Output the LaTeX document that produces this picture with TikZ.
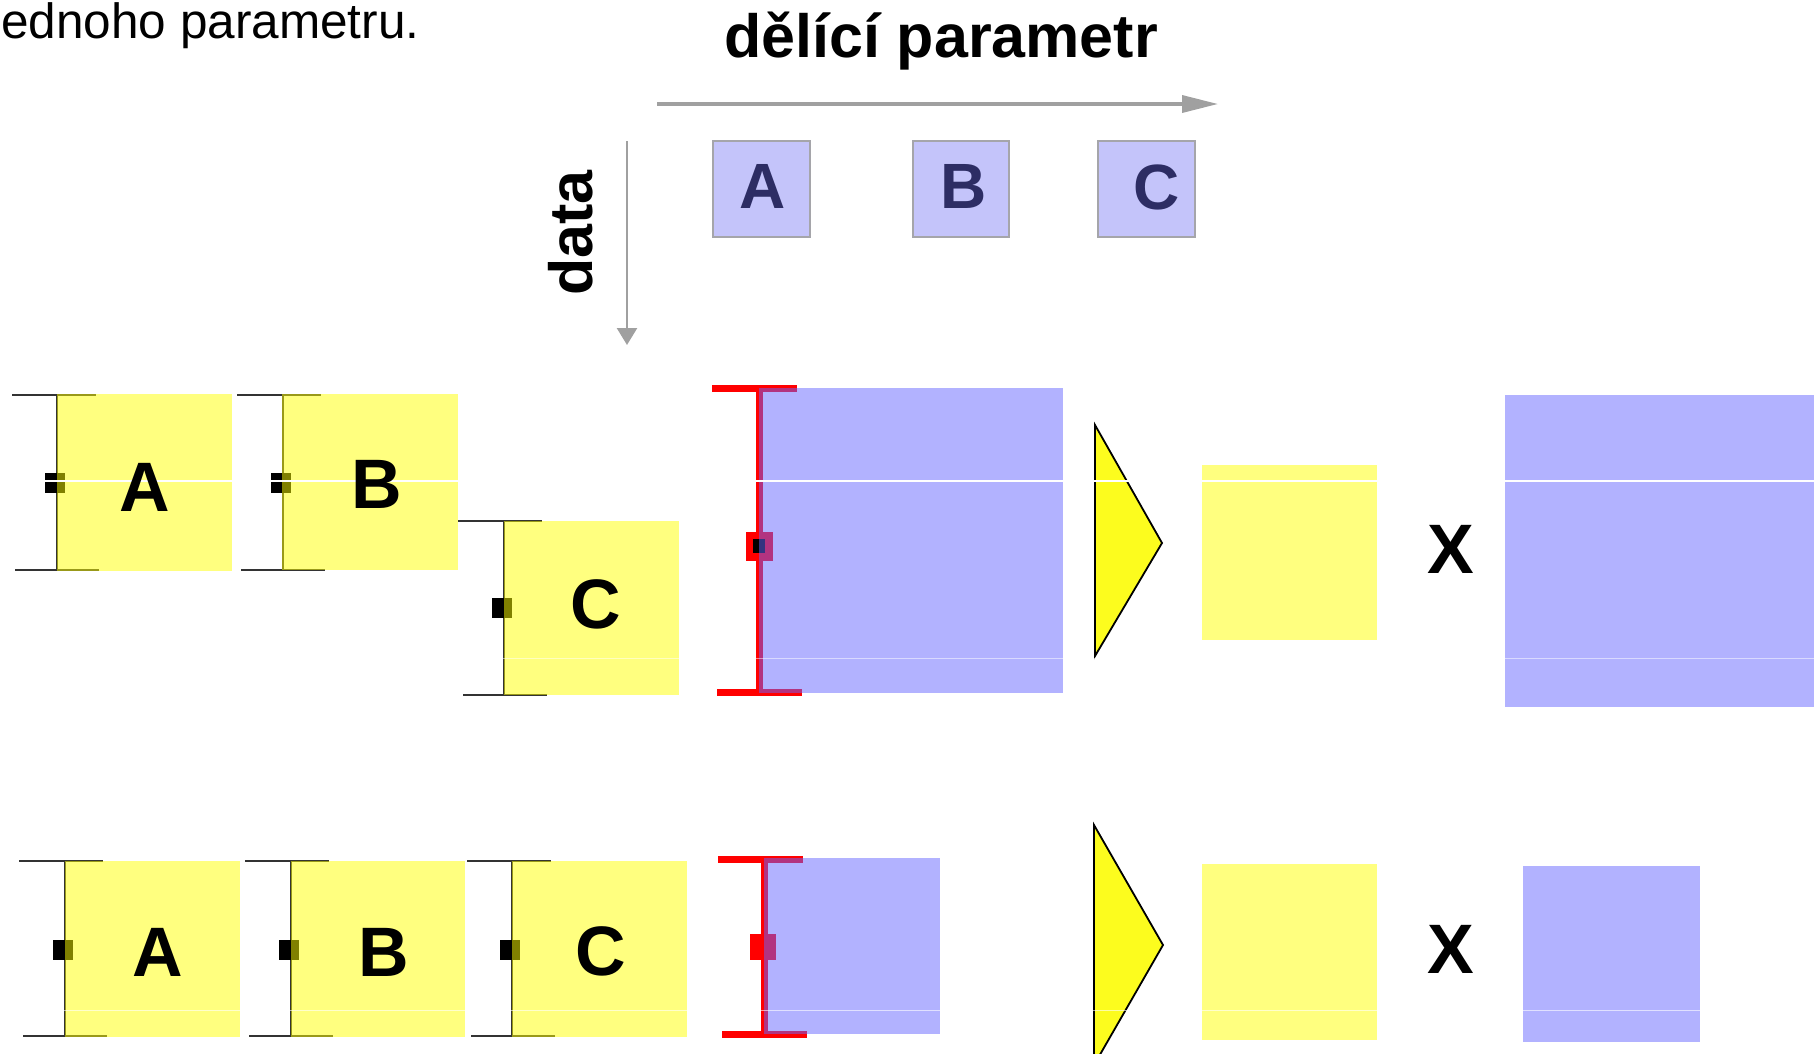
\documentclass[tikz,border=0pt]{standalone}
\usepackage{fontspec}
\setmainfont{Liberation Sans}
\usetikzlibrary{arrows.meta}
\definecolor{ylw}{RGB}{255,255,0}
\definecolor{blu}{RGB}{102,102,255}
\definecolor{lav}{RGB}{196,196,250}
\definecolor{lavedge}{RGB}{165,165,170}
\definecolor{navy}{RGB}{45,45,100}
\definecolor{axisgray}{RGB}{160,160,160}
\definecolor{triyel}{RGB}{252,252,30}
\newcommand{\rnode}[6]{\node[#1, inner sep=0pt, outer sep=0pt, anchor=north west, minimum width={(#5-#3)*1pt}, minimum height={(#6-#4)*1pt}] (#2) at (#3,#4) {};}
\newcommand{\brk}[5]{%
  \draw[brkline] (#4,#2) -- ++(84,0);
  \draw[brkline] (#1,#2) -- (#1,#3);
  \draw[brkline] (#5,#3) -- ++(84,0);}
\begin{document}
\begin{tikzpicture}[x=1pt,y=-1pt,
  ybox/.style={rectangle, fill=ylw, fill opacity=0.5},
  bbox/.style={rectangle, fill=blu, fill opacity=0.5},
  pbox/.style={rectangle, fill=lav, draw=lavedge, line width=1.5pt},
  brkline/.style={draw=black!80, line width=2.2pt},
  knob/.style={rectangle, fill=black, minimum size=20pt, inner sep=0pt},
  blk/.style={rectangle, fill=black},
  rbar/.style={draw=red, line width=7pt},
  rknob/.style={rectangle, fill=red},
  wedge/.style={fill=triyel, draw=black, line width=1.8pt, line join=miter},
  seam/.style={draw=white, line width=1.3pt},
  axis/.style={draw=axisgray},
  big/.style={font=\bfseries\fontsize{70}{70}\selectfont, inner sep=0pt},
  toplbl/.style={font=\bfseries\fontsize{64}{64}\selectfont, text=navy, inner sep=0pt},
  head/.style={font=\bfseries\fontsize{61}{61}\selectfont, inner sep=0pt},
]
\useasboundingbox (0,0) rectangle (1814,1053);

% top text
\node[font=\fontsize{49.5}{49.5}\selectfont, anchor=base west, inner sep=0pt] (intro) at (1,38) {ednoho parametru.};

% headings and axes
\node[head, anchor=base] (title) at (941,57) {dělící parametr};
\node[head, anchor=base, rotate=90] (data) at (592,233) {data};
\coordinate (hs) at (657,104); \coordinate (he) at (1218,104);
\draw[axis, line width=3.5pt, -{Triangle[length=36pt,width=17pt]}] (hs) -- (he);
\coordinate (vs) at (627,141); \coordinate (ve) at (627,345);
\draw[axis, line width=2.5pt, -{Triangle[length=17pt,width=20pt]}] (vs) -- (ve);

% top parameter boxes
\rnode{pbox}{pa}{713}{141}{810}{237}
\rnode{pbox}{pb}{913}{141}{1009}{237}
\rnode{pbox}{pc}{1098}{141}{1195}{237}
\node[toplbl] (pal) at (763,186) {A};
\node[toplbl] (pbl) at (964,186) {B};
\node[toplbl] (pcl) at (1157,187) {C};

% ---- row 1 ----
\brk{57}{395}{570}{12}{15}
\brk{283}{395}{570}{237}{241}
\brk{504}{521}{695}{458}{463}
\node[knob] (ka1) at (55,483) {};
\node[knob] (kb1) at (281,483) {};
\node[knob] (kc1) at (502,608) {};
\rnode{ybox}{ya1}{57}{394}{232}{571}
\rnode{ybox}{yb1}{282}{394}{458}{570}
\rnode{ybox}{yc1}{504}{521}{679}{695}

\draw[rbar] (712,388) -- (797,388);
\draw[rbar] (759,388) -- (759,692.5);
\draw[rbar] (717,692.5) -- (802,692.5);
\rnode{rknob}{rk1}{746}{532}{773}{561}
\rnode{blk}{rk1in}{753}{539}{765}{553}
\rnode{bbox}{bl1}{759}{388}{1063}{693}

\draw[wedge] (1095,425) -- (1162,543) -- (1095,656) -- cycle;
\rnode{ybox}{yr1}{1202}{465}{1377}{640}
\rnode{bbox}{br1}{1505}{395}{1830}{707}

% ---- row 2 ----
\brk{65}{861}{1036}{19}{23}
\brk{291}{861}{1036}{245}{249}
\brk{512}{861}{1036}{467}{471}
\node[knob] (ka2) at (63,950) {};
\node[knob] (kb2) at (289,950) {};
\node[knob] (kc2) at (510,950) {};
\rnode{ybox}{ya2}{65}{861}{240}{1037}
\rnode{ybox}{yb2}{291}{861}{465}{1037}
\rnode{ybox}{yc2}{512}{861}{687}{1037}

\draw[rbar] (718,859.5) -- (803,859.5);
\draw[rbar] (764.5,859.5) -- (764.5,1034);
\draw[rbar] (722,1034) -- (807,1034);
\rnode{rknob}{rk2}{750}{934}{776}{960}
\rnode{bbox}{bl2}{764}{858}{940}{1034}

\draw[wedge] (1094,825) -- (1163,945) -- (1094,1065) -- cycle;
\rnode{ybox}{yr2}{1202}{864}{1377}{1040}
\rnode{bbox}{br2}{1523}{866}{1700}{1042}

% seams
\draw[seam] (0,481) -- (1814,481);
\draw[seam, draw opacity=0.5, line width=1pt] (0,658) -- (1814,658);
\draw[seam, draw opacity=0.6, line width=1pt] (0,1010) -- (1814,1010);

% letters
\node[big] (la1) at (145,487) {A};
\node[big] (lb1) at (377,484.5) {B};
\node[big] (lc1) at (596,604) {C};
\node[big] (la2) at (158,952) {A};
\node[big] (lb2) at (384,952) {B};
\node[big] (lc2) at (601,951.5) {C};
\node[big] (x1) at (1451,549) {X};
\node[big] (x2) at (1451,949) {X};
\end{tikzpicture}
\end{document}
